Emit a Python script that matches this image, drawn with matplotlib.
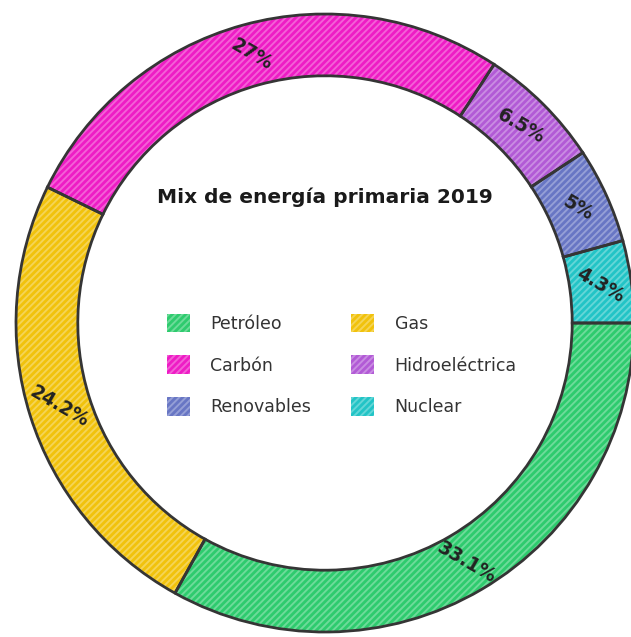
import numpy as np
import matplotlib.pyplot as plt
from matplotlib.patches import Patch
from matplotlib.colors import to_rgb

# energy mix 2019, share of primary energy (%)
fuentes = ["Petróleo", "Gas", "Carbón", "Hidroeléctrica", "Renovables", "Nuclear"]
porcentajes = [33.1, 24.2, 27, 6.5, 5, 4.3]
colores = ["#2ecb6e", "#f1c20c", "#ee1cc5", "#b25ad6", "#6876c4", "#22c4c6"]

titulo = "Mix de energía primaria 2019"

plt.rcParams['hatch.linewidth'] = 2.0


def aclarar(c, f):
    r, g, b = to_rgb(c)
    return (r + (1 - r) * f, g + (1 - g) * f, b + (1 - b) * f)


fig = plt.figure(figsize=(6.31, 6.37), dpi=100)
ax = fig.add_axes([0, 0, 1, 1])

# coloured fill with scribble-like hatching
cunas, _ = ax.pie(porcentajes, radius=1, startangle=0, counterclock=False,
                  wedgeprops=dict(width=0.2, linewidth=0))
for w, c in zip(cunas, colores):
    w.set_facecolor(aclarar(c, 0.3))
    w.set_edgecolor(c)
    w.set_hatch("/////")

# dark outlines on top
bordes, _ = ax.pie(porcentajes, radius=1, startangle=0, counterclock=False,
                   wedgeprops=dict(width=0.2, facecolor="none",
                                   edgecolor="#353535", linewidth=2.0))

# rotated percentage labels in the middle of the ring
total = sum(porcentajes)
inicio = 0.0
for v in porcentajes:
    ang = inicio - v / total * 360 / 2
    inicio -= v / total * 360
    x = 0.9 * np.cos(np.radians(ang))
    y = 0.9 * np.sin(np.radians(ang))
    ax.text(x, y, f"{v:g}%", ha="center", va="center", rotation=-30,
            fontsize=13.5, fontweight="bold", color="#222222",
            family="DejaVu Sans")

ax.text(0, 0.408, titulo, ha="center", va="center", fontsize=14.5,
        fontweight="bold", color="#1a1a1a", family="DejaVu Sans")

# legend in two columns, rows read left to right
orden = [0, 2, 4, 1, 3, 5]
manejadores = [Patch(facecolor=aclarar(colores[i], 0.3), edgecolor=colores[i],
                     hatch="/////", linewidth=0, label=fuentes[i]) for i in orden]
leg = fig.legend(handles=manejadores, loc="center left", ncol=2,
                 bbox_to_anchor=(0.24, 0.427), frameon=False,
                 prop=dict(family="DejaVu Sans", size=12.5),
                 handlelength=1.3, handleheight=1.3, handletextpad=1.2,
                 labelspacing=1.3, columnspacing=2.3)
for t in leg.get_texts():
    t.set_color("#333333")

ax.set_xlim(-325 / 309, (631 - 325) / 309)
ax.set_ylim(-314 / 309, 323 / 309)
ax.set_aspect("equal")
ax.axis("off")

fig.savefig("out.png", dpi=100, facecolor="white")
